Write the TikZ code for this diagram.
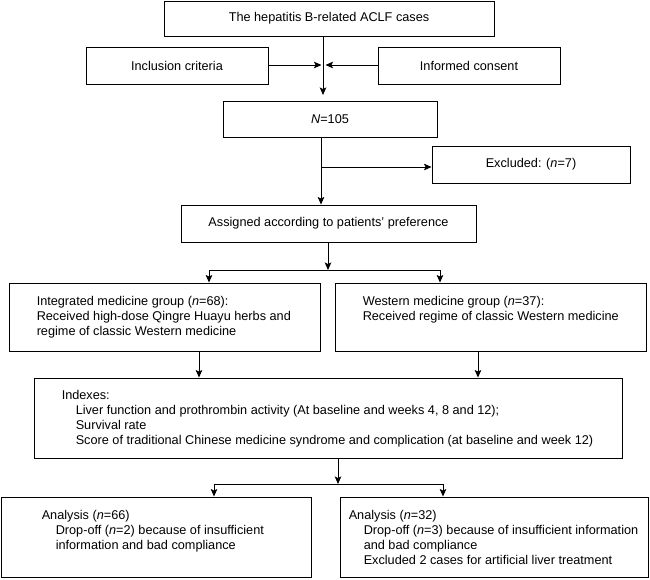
\documentclass[tikz,border=0pt]{standalone}
\usepackage{fontspec}
\setmainfont{Liberation Sans}
\usetikzlibrary{calc,arrows.meta}
\newcommand\fr{\rule{0pt}{10pt}}
\tikzset{
  box/.style={draw=black, line width=0.9pt, inner sep=0pt, align=center},
  txt/.style={anchor=north west, inner sep=0pt, align=left},
  conn/.style={line width=0.9pt},
  arr/.style={line width=0.9pt, -{Stealth[length=7.5pt,width=6.5pt,inset=1.5pt]}}
}
\begin{document}
\begin{tikzpicture}[x=1pt,y=-1pt,font=\fontsize{12.7}{15}\selectfont]
\useasboundingbox (0,0) rectangle (650,579);
% boxes
\node[box, minimum width=330pt, minimum height=35pt] (b1) at (329,18.5) {The hepatitis B-related ACLF cases};
\node[box, minimum width=182pt, minimum height=37pt] (inc) at (177,65.5) {Inclusion criteria};
\node[box, minimum width=182pt, minimum height=37pt] (inf) at (469,65.5) {Informed consent};
\node[box, minimum width=214pt, minimum height=36pt] (n) at (330,119) {\textit{N}=105};
\node[box, minimum width=198pt, minimum height=37pt] (exc) at (531,164.5) {Excluded: (\textit{n}=7)};
\node[box, minimum width=295pt, minimum height=37pt] (asg) at (328.5,223.5) {Assigned according to patients’ preference};
\node[box, minimum width=311pt, minimum height=68pt] (int) at (164.5,317) {};
\node[box, minimum width=311pt, minimum height=68pt] (wes) at (490.5,317) {};
\node[box, minimum width=588pt, minimum height=80pt] (idx) at (328,418) {};
\node[box, minimum width=310pt, minimum height=80pt] (anl) at (156,537) {};
\node[box, minimum width=308pt, minimum height=80pt] (anr) at (494,537) {};
% texts
\node[txt] (intT) at ($(int.north west)+(28,12.5)$) {\fr Integrated medicine group (\textit{n}=68):\\Received high-dose Qingre Huayu herbs and\\regime of classic Western medicine};
\node[txt] (wesT) at ($(wes.north west)+(28,12.5)$) {\fr Western medicine group (\textit{n}=37):\\Received regime of classic Western medicine};
\node[txt] (idxT) at ($(idx.north west)+(28,12)$) {\fr Indexes:\\\hspace*{14pt}Liver function and prothrombin activity (At baseline and weeks 4, 8 and 12);\\\hspace*{14pt}Survival rate\\\hspace*{14pt}Score of traditional Chinese medicine syndrome and complication (at baseline and week 12)};
\node[txt] (anlT) at ($(anl.north west)+(41,12.5)$) {\fr Analysis (\textit{n}=66)\\\hspace*{14pt}Drop-off (\textit{n}=2) because of insufficient\\\hspace*{14pt}information and bad compliance};
\node[txt] (anrT) at ($(anr.north west)+(9,12.5)$) {\fr Analysis (\textit{n}=32)\\\hspace*{15pt}Drop-off (\textit{n}=3) because of insufficient information\\\hspace*{15pt}and bad compliance\\\hspace*{15pt}Excluded 2 cases for artificial liver treatment};
% junction coordinates
\coordinate (j1) at (323,65);
\coordinate (j1L) at (321.5,65);
\coordinate (j1R) at (325.5,65);
\coordinate (j1tip) at (323,95);
\coordinate (j2) at (321,167);
\coordinate (j3) at (328,270);
\coordinate (b3L) at (209,270);
\coordinate (b3R) at (440,270);
\coordinate (c1) at (199,0);
\coordinate (c2) at (478,0);
\coordinate (j4) at (338,484);
\coordinate (b4L) at (214,484);
\coordinate (b4R) at (443,484);
% connectors
\draw[arr] (b1.south -| j1) -- (j1tip);
\draw[arr] (inc.east |- j1) -- (j1L);
\draw[arr] (inf.west |- j1) -- (j1R);
\draw[arr] (n.south -| j2) -- (asg.north -| j2);
\draw[arr] (j2) -- (exc.west |- j2);
\draw[arr] (asg.south -| j3) -- (j3);
\draw[conn] (b3L) -- (b3R);
\draw[arr] (b3L) -- (int.north -| b3L);
\draw[arr] (b3R) -- (wes.north -| b3R);
\draw[arr] (int.south -| c1) -- (idx.north -| c1);
\draw[arr] (wes.south -| c2) -- (idx.north -| c2);
\draw[arr] (idx.south -| j4) -- (j4);
\draw[conn] (b4L) -- (b4R);
\draw[arr] (b4L) -- (anl.north -| b4L);
\draw[arr] (b4R) -- (anr.north -| b4R);
\end{tikzpicture}
\end{document}
